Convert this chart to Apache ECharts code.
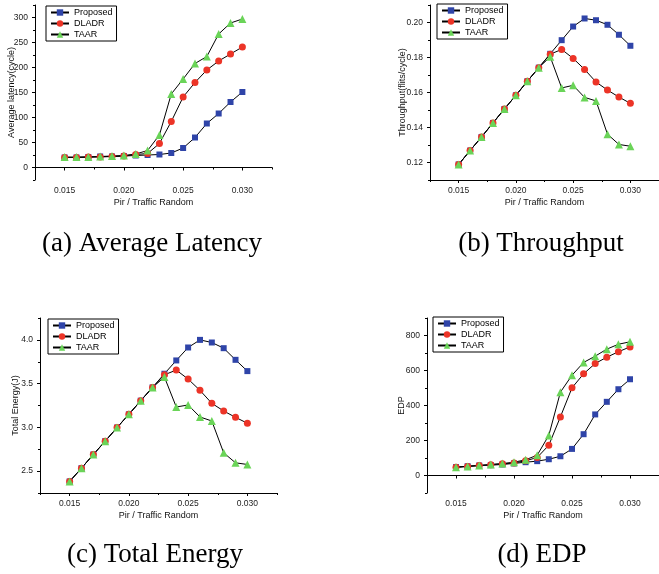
<!DOCTYPE html>
<html>
<head>
<meta charset="utf-8">
<script src="https://cdn.jsdelivr.net/npm/echarts@6/dist/echarts.min.js"></script>
<style>
  html, body { margin: 0; padding: 0; background: #fff; }
  #main { width: 659px; height: 574px; }
</style>
</head>
<body>
<div id="main"></div>
<script>
// injection rate (x axis)
var rates = [0.015, 0.016, 0.017, 0.018, 0.019, 0.020, 0.021, 0.022,
             0.023, 0.024, 0.025, 0.026, 0.027, 0.028, 0.029, 0.030];
var seriesNames = ['Proposed', 'DLADR', 'TAAR'];

// (a) average latency
var latProposed = [20, 20, 21, 22, 22, 23, 24, 25, 26, 29, 39, 60, 88, 108, 131, 151];
var latDLADR    = [20, 20, 21, 21, 22, 23, 26, 28, 48, 92, 141, 170, 195, 213, 227, 241];
var latTAAR     = [21, 21, 21, 22, 23, 24, 27, 34, 65, 147, 177, 208, 222, 267, 289, 297];

// (b) throughput
var thrProposed = [0.1189, 0.1268, 0.1346, 0.1426, 0.1506, 0.1584, 0.1664, 0.1742,
                   0.1821, 0.1899, 0.1977, 0.2023, 0.2013, 0.1987, 0.1930, 0.1867];
var thrDLADR    = [0.1189, 0.1268, 0.1346, 0.1426, 0.1506, 0.1584, 0.1664, 0.1742,
                   0.1819, 0.1846, 0.1795, 0.1732, 0.1660, 0.1614, 0.1574, 0.1538];
var thrTAAR     = [0.1189, 0.1268, 0.1346, 0.1426, 0.1506, 0.1584, 0.1664, 0.1742,
                   0.1804, 0.1626, 0.1641, 0.1572, 0.1552, 0.1362, 0.1303, 0.1293];

// (c) total energy
var engProposed = [2.382, 2.534, 2.690, 2.842, 2.998, 3.149, 3.305, 3.457,
                   3.613, 3.765, 3.913, 4.000, 3.970, 3.905, 3.772, 3.643];
var engDLADR    = [2.382, 2.534, 2.690, 2.842, 2.998, 3.149, 3.305, 3.457,
                   3.601, 3.655, 3.552, 3.423, 3.275, 3.187, 3.115, 3.047];
var engTAAR     = [2.382, 2.534, 2.690, 2.842, 2.998, 3.149, 3.305, 3.457,
                   3.575, 3.233, 3.256, 3.119, 3.073, 2.709, 2.595, 2.576];

// (d) EDP
var edpProposed = [48, 53, 57, 59, 63, 69, 76, 82, 93, 110, 152, 236, 349, 421, 493, 550];
var edpDLADR    = [47, 52, 57, 62, 67, 72, 84, 103, 173, 335, 501, 581, 640, 676, 707, 735];
var edpTAAR     = [47, 52, 57, 63, 68, 76, 90, 116, 229, 476, 573, 646, 682, 722, 750, 764];

// tick labels
var xMajor = [0.015, 0.020, 0.025, 0.030];
var xMinor = [0.0125, 0.0175, 0.0225, 0.0275, 0.0325];
var latMajor = [0, 50, 100, 150, 200, 250, 300];
var latMinor = [-25, 25, 75, 125, 175, 225, 275, 325];
var thrMajor = [0.12, 0.14, 0.16, 0.18, 0.20];
var thrMinor = [0.11, 0.13, 0.15, 0.17, 0.19, 0.21];
var engMajor = [2.5, 3.0, 3.5, 4.0];
var engMinor = [2.25, 2.75, 3.25, 3.75, 4.25];
var edpMajor = [0, 200, 400, 600, 800];
var edpMinor = [-100, 100, 300, 500, 700, 900];

var captions = ['(a) Average Latency', '(b) Throughput', '(c) Total Energy', '(d) EDP'];

var myChart = echarts.init(document.getElementById('main'));

var sans = '"Liberation Sans", Arial, sans-serif';
var colors = ['#2f44a8', '#ec3427', '#6ad458'];
var symbols = ['rect', 'circle', 'triangle'];
var symbolSizes = [6, 7, 8];

// panel layout
var panels = [
  { left: 35,  top: 5,   yName: 'Average latency(cycle)', yGap: 19, min: -25, max: 325,
    major: latMajor, minor: latMinor, fmt: function (v) { return v.toFixed(0); },
    data: [latProposed, latDLADR, latTAAR], legend: [46, 6] },
  { left: 430, top: 5,   yName: 'Throughput(flits/cycle)', yGap: 23, min: 0.11, max: 0.21,
    major: thrMajor, minor: thrMinor, fmt: function (v) { return v.toFixed(2); },
    data: [thrProposed, thrDLADR, thrTAAR], legend: [437, 4] },
  { left: 40,  top: 318, yName: 'Total Energy(J)', yGap: 20, min: 2.25, max: 4.25,
    major: engMajor, minor: engMinor, fmt: function (v) { return v.toFixed(1); },
    data: [engProposed, engDLADR, engTAAR], legend: [48, 319] },
  { left: 427, top: 318, yName: 'EDP', yGap: 21, min: -100, max: 900,
    major: edpMajor, minor: edpMinor, fmt: function (v) { return v.toFixed(0); },
    data: [edpProposed, edpDLADR, edpTAAR], legend: [433, 317] }
];
var captionPos = [[152, 244], [541, 244], [155, 555], [542, 555]];

var grids = [], xAxes = [], yAxes = [], series = [], legends = [], graphics = [];

panels.forEach(function (p, gi) {
  grids.push({ left: p.left, top: p.top, width: 237, height: 175 });

  // major x axis with labels
  xAxes.push({
    type: 'value', gridIndex: gi, position: 'bottom', min: 0.0125, max: 0.0325,
    name: 'Pir / Traffic Random', nameLocation: 'middle', nameGap: 18, nameMoveOverlap: false,
    nameTextStyle: { fontSize: 9, color: '#111', fontFamily: sans },
    axisLine: { show: true, lineStyle: { color: '#000', width: 1 } },
    axisTick: { show: true, length: 3, customValues: xMajor, lineStyle: { color: '#000' } },
    axisLabel: { customValues: xMajor, margin: 6, fontSize: 8.5, color: '#222', fontFamily: sans,
                 formatter: function (v) { return v.toFixed(3); } },
    splitLine: { show: false }
  });
  // minor x ticks
  xAxes.push({
    type: 'value', gridIndex: gi, position: 'bottom', min: 0.0125, max: 0.0325,
    axisLine: { show: false },
    axisTick: { show: true, length: 2, customValues: xMinor, lineStyle: { color: '#000' } },
    axisLabel: { show: false },
    splitLine: { show: false }
  });

  yAxes.push({
    type: 'value', gridIndex: gi, position: 'left', min: p.min, max: p.max,
    name: p.yName, nameLocation: 'middle', nameGap: p.yGap, nameMoveOverlap: false,
    nameTextStyle: { fontSize: 9, color: '#111', fontFamily: sans },
    axisLine: { show: true, lineStyle: { color: '#000', width: 1 } },
    axisTick: { show: true, length: 3, customValues: p.major, lineStyle: { color: '#000' } },
    axisLabel: { customValues: p.major, margin: 7, fontSize: 8.5, color: '#222', fontFamily: sans,
                 formatter: p.fmt },
    splitLine: { show: false }
  });
  yAxes.push({
    type: 'value', gridIndex: gi, position: 'left', min: p.min, max: p.max,
    axisLine: { show: false },
    axisTick: { show: true, length: 2, customValues: p.minor, lineStyle: { color: '#000' } },
    axisLabel: { show: false },
    splitLine: { show: false }
  });

  seriesNames.forEach(function (name, si) {
    series.push({
      name: name, type: 'line',
      xAxisIndex: gi * 2, yAxisIndex: gi * 2,
      data: rates.map(function (x, i) { return [x, p.data[si][i]]; }),
      symbol: symbols[si], symbolSize: symbolSizes[si],
      lineStyle: { color: '#000', width: 1 },
      itemStyle: { color: colors[si] },
      animation: false
    });
  });

  legends.push({
    orient: 'vertical', left: p.legend[0], top: p.legend[1],
    data: seriesNames,
    itemWidth: 18, itemHeight: 8, itemGap: 2,
    padding: [2, 4, 2, 4],
    borderColor: '#000', borderWidth: 1,
    textStyle: { fontSize: 9, color: '#000', fontFamily: sans }
  });

  graphics.push({
    type: 'text', x: captionPos[gi][0], y: captionPos[gi][1],
    style: { text: captions[gi], font: '27px "Liberation Serif", serif', fill: '#000',
             align: 'center', verticalAlign: 'middle' }
  });
});

var option = {
  backgroundColor: '#fff',
  animation: false,
  grid: grids,
  xAxis: xAxes,
  yAxis: yAxes,
  legend: legends,
  series: series,
  graphic: graphics
};

myChart.setOption(option);
</script>
</body>
</html>
